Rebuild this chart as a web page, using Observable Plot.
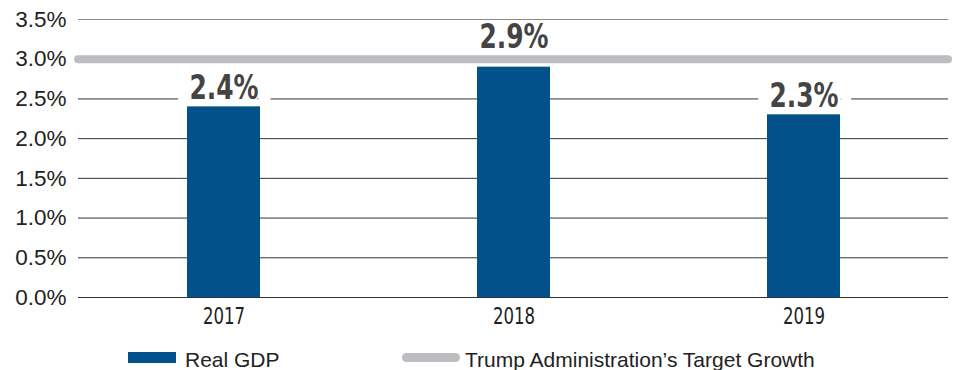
<!DOCTYPE html>
<html>
<head>
<meta charset="utf-8">
<script src="https://cdn.jsdelivr.net/npm/d3@7"></script>
<script src="https://cdn.jsdelivr.net/npm/@observablehq/plot@0.6"></script>
<style>
  html, body { margin: 0; padding: 0; background: #fff; }
  #wrap { position: relative; width: 954px; height: 370px; overflow: hidden; }
  #legend { position: absolute; left: 0; top: 340px; width: 954px; height: 30px;
    font-family: "Liberation Sans", Arial, sans-serif; font-size: 21px; color: #222; }
  .sw { position: absolute; }
  .lt { position: absolute; top: 8px; line-height: 24px; white-space: nowrap; }
</style>
</head>
<body>
<div id="wrap"><div id="chart"></div><div id="legend"></div></div>
<script>
const years = ["2017", "2018", "2019"];
const gdp = [2.4, 2.9, 2.3];
const target = 3.0;
const yTicks = [0, 0.5, 1.0, 1.5, 2.0, 2.5, 3.0, 3.5];
const seriesNames = ["Real GDP", "Trump Administration\u2019s Target Growth"];
const colors = { gdp: "#03518a", target: "#bcbdc0" };

const data = years.map((y, i) => ({ year: y, value: gdp[i] }));
const near = d => d.value > target - 0.3;
const condFont = "'Liberation Sans Narrow', 'DejaVu Sans Condensed', 'Arial Narrow', sans-serif";
const label = d => d.value.toFixed(1) + "%";
const valueText = { x: "year", y: "value", text: label, lineAnchor: "bottom",
  fontFamily: condFont, fontWeight: "bold", fontSize: 33 };

const chart = Plot.plot({
  width: 954,
  height: 340,
  marginLeft: 78,
  marginRight: 6,
  marginTop: 19,
  marginBottom: 43,
  style: { fontFamily: "Liberation Sans, Arial, sans-serif", background: "#fff" },
  x: { domain: years, paddingInner: 0.75, paddingOuter: 0.375, label: null },
  y: { domain: [0, 3.5], ticks: yTicks, label: null },
  marks: [
    Plot.ruleY(yTicks, { stroke: d => d === 3.5 ? "#8a8a8a" : "#333", strokeWidth: 1 }),
    Plot.text(data.filter(d => !near(d)), { ...valueText, dy: -8, fill: "white", stroke: "white", strokeWidth: 32, className: "squeeze" }),
    Plot.barY(data, { x: "year", y: "value", fill: colors.gdp }),
    Plot.ruleY([target], { stroke: colors.target, strokeWidth: 8, strokeLinecap: "round" }),
    Plot.text(data.filter(d => !near(d)), { ...valueText, dy: -8, fill: "#444", className: "squeeze" }),
    Plot.text(data.filter(near), { ...valueText, dy: -19, fill: "#444", className: "squeeze" }),
    Plot.axisY({ ticks: yTicks, tickFormat: d => d.toFixed(1) + "%", tickSize: 0, tickPadding: 12,
      fontSize: 22.5 }),
    Plot.axisX({ tickSize: 0, tickPadding: 10, fontSize: 23, fontFamily: condFont, className: "squeezex" })
  ]
});
chart.querySelectorAll("g[aria-label$='axis tick label']").forEach(g => g.setAttribute("fill", "#222"));
document.getElementById("chart").appendChild(chart);

function squeeze(sel, k) {
  chart.querySelectorAll(sel).forEach(t => {
    const b = t.getBBox();
    const cx = b.x + b.width / 2;
    const prev = t.getAttribute("transform") || "";
    t.setAttribute("transform", `${prev} translate(${cx},0) scale(${k},1) translate(${-cx},0)`);
  });
}
squeeze(".squeeze text", 0.84);
squeeze(".squeezex text", 0.8);

const legend = document.getElementById("legend");
legend.innerHTML = `
  <div class="sw" style="left:128px;top:12px;width:48px;height:11px;background:${colors.gdp}"></div>
  <div class="lt" style="left:185px">${seriesNames[0]}</div>
  <div class="sw" style="left:402px;top:13px;width:58px;height:9px;border-radius:5px;background:${colors.target}"></div>
  <div class="lt" style="left:465px">${seriesNames[1]}</div>`;
</script>
</body>
</html>
